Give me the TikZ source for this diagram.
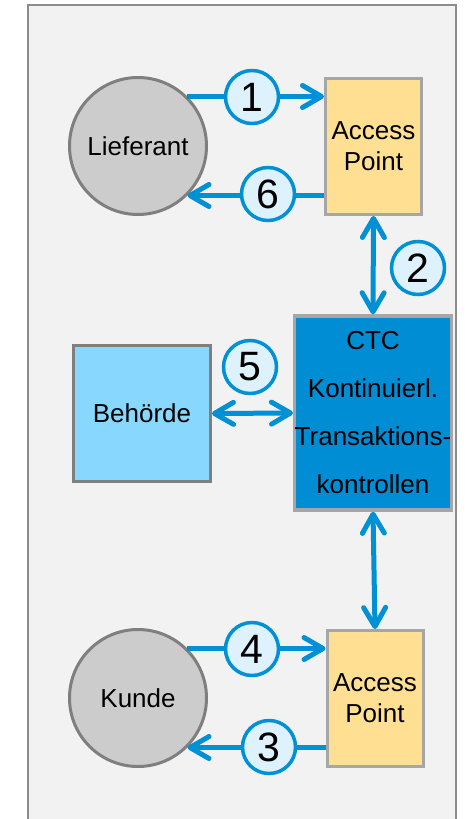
\documentclass[tikz,border=0pt]{standalone}
\usepackage{fontspec}
\setmainfont{Liberation Sans}
\usetikzlibrary{arrows.meta}
\definecolor{frameg}{HTML}{F2F2F2}
\definecolor{framel}{HTML}{8C8C8C}
\definecolor{circf}{HTML}{CCCCCC}
\definecolor{darkg}{HTML}{7F7F7F}
\definecolor{lightg}{HTML}{A6A6A6}
\definecolor{apfill}{HTML}{FFDF91}
\definecolor{ctcfill}{HTML}{008DD4}
\definecolor{behfill}{HTML}{88D7FE}
\definecolor{arrblue}{HTML}{0090D6}
\definecolor{badgef}{HTML}{DDF2FD}
\tikzset{
  actor/.style={circle, draw=darkg, fill=circf, line width=3pt, minimum size=137pt, inner sep=0pt, font=\fontsize{26}{30}\selectfont},
  apbox/.style={rectangle, draw=lightg, fill=apfill, line width=3pt, minimum width=96pt, minimum height=136pt, inner sep=0pt, align=center, font=\fontsize{26}{31}\selectfont},
  ctcbox/.style={rectangle, draw=lightg, fill=ctcfill, line width=3.5pt, minimum width=146pt, minimum height=194pt, inner sep=0pt, align=center, font=\fontsize{26}{48}\selectfont},
  behbox/.style={rectangle, draw=darkg, fill=behfill, line width=3pt, minimum width=137pt, minimum height=136pt, inner sep=0pt, font=\fontsize{26}{30}\selectfont},
  badge/.style={circle, draw=arrblue, fill=badgef, line width=3.5pt, minimum size=53pt, inner sep=0pt, font=\fontsize{41}{41}\selectfont},
  flow/.style={draw=arrblue, line width=5pt, -{Straight Barb[length=19pt,width=22pt,round]}},
  flowboth/.style={draw=arrblue, line width=5pt, {Straight Barb[length=19pt,width=22pt,round]}-{Straight Barb[length=19pt,width=22pt,round]}},
}
\begin{document}
\begin{tikzpicture}[x=1pt,y=-1pt]
\useasboundingbox (0,0) rectangle (467,819);
\begin{scope}
\clip (0,0) rectangle (467,819);
\draw[framel, fill=frameg, line width=2pt] (28,5) rectangle (456,840);
\end{scope}
\node[actor] (lief) at (138,146) {Lieferant};
\node[apbox] (ap1) at (373.5,146.5) {Access\\Point};
\node[ctcbox] (ctc) at (373,413) {CTC\\Kontinuierl.\\Transaktions-\\kontrollen};
\node[behbox] (beh) at (142,413.5) {Behörde};
\node[actor] (kunde) at (138,698) {Kunde};
\node[apbox] (ap2) at (375,698.5) {Access\\Point};
\coordinate (a1e) at (ap1.west |- lief.45);
\coordinate (a6s) at (ap1.west |- lief.-45);
\coordinate (a4e) at (ap2.west |- kunde.45);
\coordinate (a3s) at (ap2.west |- kunde.-45);
\draw[flow] (lief.45) -- (a1e);
\draw[flow] (a6s) -- (lief.-45);
\draw[flowboth] (ap1.south) -- (ctc.north);
\draw[flowboth] (beh.east) -- (ctc.west);
\draw[flowboth] (ctc.south) -- (ap2.north);
\draw[flow] (kunde.45) -- (a4e);
\draw[flow] (a3s) -- (kunde.-45);
\node[badge] (b1) at (252,97) {1};
\node[badge] (b6) at (268,194) {6};
\node[badge] (b2) at (418,268) {2};
\node[badge] (b5) at (250,367) {5};
\node[badge] (b4) at (252,649) {4};
\node[badge] (b3) at (269,747) {3};
\end{tikzpicture}
\end{document}
